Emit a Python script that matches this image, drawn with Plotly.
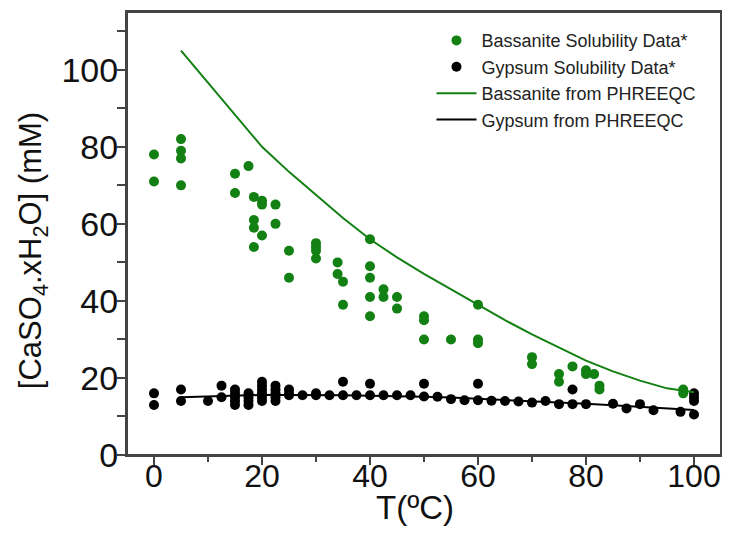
import plotly.graph_objects as go

# Bassanite solubility data (T in °C, concentration in mM)
bas_T = [0, 0, 5, 5, 5, 5, 15, 15, 17.5, 18.5, 18.5, 18.5, 18.5, 20, 20, 20, 22.5, 22.5,
         25, 25, 30, 30, 30, 30, 34, 34, 35, 35, 40, 40, 40, 40, 40, 42.5, 42.5, 45, 45,
         50, 50, 50, 55, 60, 60, 60, 70, 70, 75, 75, 77.5, 80, 80, 81.5, 82.5, 82.5, 98, 98]
bas_C = [78, 71, 82, 79, 77, 70, 73, 68, 75, 67, 61, 59, 54, 66, 65, 57, 65, 60,
         53, 46, 55, 54, 53, 51, 50, 47, 45, 39, 56, 49, 46, 41, 36, 43, 41, 41, 38,
         36, 35, 30, 30, 39, 30, 29, 25.4, 23.6, 21, 19, 23, 22, 21, 21, 18, 17, 17, 16]

# Gypsum solubility data
gyp_T = [0, 0, 5, 5, 10, 12.5, 12.5, 15, 15, 15, 15, 15, 17.5, 17.5, 17.5, 17.5,
         20, 20, 20, 20, 20, 20, 22.5, 22.5, 22.5, 22.5, 22.5, 25, 25, 25, 27.5, 30, 30,
         32.5, 35, 35, 37.5, 40, 40, 42.5, 45, 47.5, 50, 50, 52.5, 55, 57.5, 60, 60,
         62.5, 65, 67.5, 70, 72.5, 75, 77.5, 77.5, 80, 85, 87.5, 90, 92.5, 97.5,
         100, 100, 100, 100]
gyp_C = [16, 13, 17, 14, 14, 18, 15, 17, 16, 15, 14, 13, 16, 15, 14, 13,
         19, 18, 17, 16, 15, 14, 18, 17, 16, 15, 14, 17, 16, 15.5, 15.5, 16, 15.5,
         15.5, 19, 15.5, 15.5, 18.5, 15.5, 15.5, 15.5, 15.5, 18.5, 15.2, 15.1, 14.5, 14.2, 18.5, 14.2,
         14.1, 14.0, 13.9, 13.6, 14.0, 13.2, 17, 13.2, 13.2, 13.3, 12.1, 13.2, 11.6, 11.2,
         16, 15, 14, 10.5]

# PHREEQC model curves
model_T = [5, 10, 15, 20, 25, 30, 35, 40, 45, 50, 55, 60, 65, 70, 75, 80, 85, 90, 95, 100]
bas_model = [105, 96.7, 88.3, 80, 73.5, 67.5, 61.5, 56, 51.3, 47, 43, 39, 35, 31.3, 27.8, 24.5, 21.7, 19.3, 17.3, 16.3]
gyp_model = [15.0, 15.2, 15.4, 15.6, 15.6, 15.6, 15.5, 15.4, 15.3, 15.1, 14.9, 14.6, 14.3, 14.0, 13.6, 13.3, 12.9, 12.5, 12.1, 11.7]

x_ticks = [0, 20, 40, 60, 80, 100]
y_ticks = [0, 20, 40, 60, 80, 100]

x_title = "T(ºC)"
y_title = "[CaSO<sub>4</sub>.xH<sub>2</sub>O] (mM)"

GREEN = "#128012"
FONT = "Liberation Sans, Arial, sans-serif"
AXC = "#444444"

fig = go.Figure()
fig.add_trace(go.Scatter(x=bas_T, y=bas_C, mode="markers", name="Bassanite Solubility Data*",
                         marker=dict(color=GREEN, size=10)))
fig.add_trace(go.Scatter(x=gyp_T, y=gyp_C, mode="markers", name="Gypsum Solubility Data*",
                         marker=dict(color="black", size=10)))
fig.add_trace(go.Scatter(x=model_T, y=bas_model, mode="lines", name="Bassanite from PHREEQC",
                         line=dict(color=GREEN, width=2)))
fig.add_trace(go.Scatter(x=model_T, y=gyp_model, mode="lines", name="Gypsum from PHREEQC",
                         line=dict(color="black", width=2)))

axis_common = dict(
    showline=True, linecolor=AXC, linewidth=2, mirror=True,
    showgrid=False, zeroline=False, automargin=False,
    ticks="outside", ticklen=8, tickwidth=1.5, tickcolor=AXC,
    ticklabeloverflow="allow",
)

# frame around the plotting area
fig.add_shape(type="rect", xref="paper", yref="paper", x0=0, y0=0, x1=1, y1=1,
              line=dict(color=AXC, width=2), fillcolor="rgba(0,0,0,0)", layer="above")

# axis titles as annotations for precise placement
fig.add_annotation(text=x_title, xref="paper", yref="paper", x=0.4848, y=-0.1196,
                   xanchor="center", yanchor="middle", showarrow=False,
                   font=dict(family=FONT, size=33, color="#111"))
fig.add_annotation(text=y_title, xref="paper", yref="paper", x=-0.158, y=0.4605,
                   xanchor="center", yanchor="middle", showarrow=False, textangle=-90,
                   font=dict(family=FONT, size=31, color="#111"))

fig.update_layout(
    width=714, height=519,
    margin=dict(l=119, r=1, t=4, b=72),
    paper_bgcolor="white", plot_bgcolor="white",
    font=dict(family=FONT, color="#111"),
    showlegend=True,
    legend=dict(x=0.5126, y=0.977, xanchor="left", yanchor="top",
                font=dict(family=FONT, size=18, color="#222"),
                bgcolor="rgba(0,0,0,0)", tracegroupgap=0, itemwidth=40),
    xaxis=dict(range=[-5, 105], tickvals=x_ticks, ticktext=[str(v) for v in x_ticks],
               minor=dict(dtick=10, ticklen=5, tickcolor=AXC, ticks="outside"),
               ticklabelstandoff=-16,
               tickfont=dict(family=FONT, size=32, color="#111"),
               **axis_common),
    yaxis=dict(range=[0, 115], tickvals=y_ticks, ticktext=[str(v) for v in y_ticks],
               minor=dict(dtick=10, ticklen=8, tickcolor=AXC, ticks="outside"),
               ticklabelstandoff=-8,
               tickfont=dict(family=FONT, size=34, color="#111"),
               **axis_common),
)

fig.write_html("out.html")
